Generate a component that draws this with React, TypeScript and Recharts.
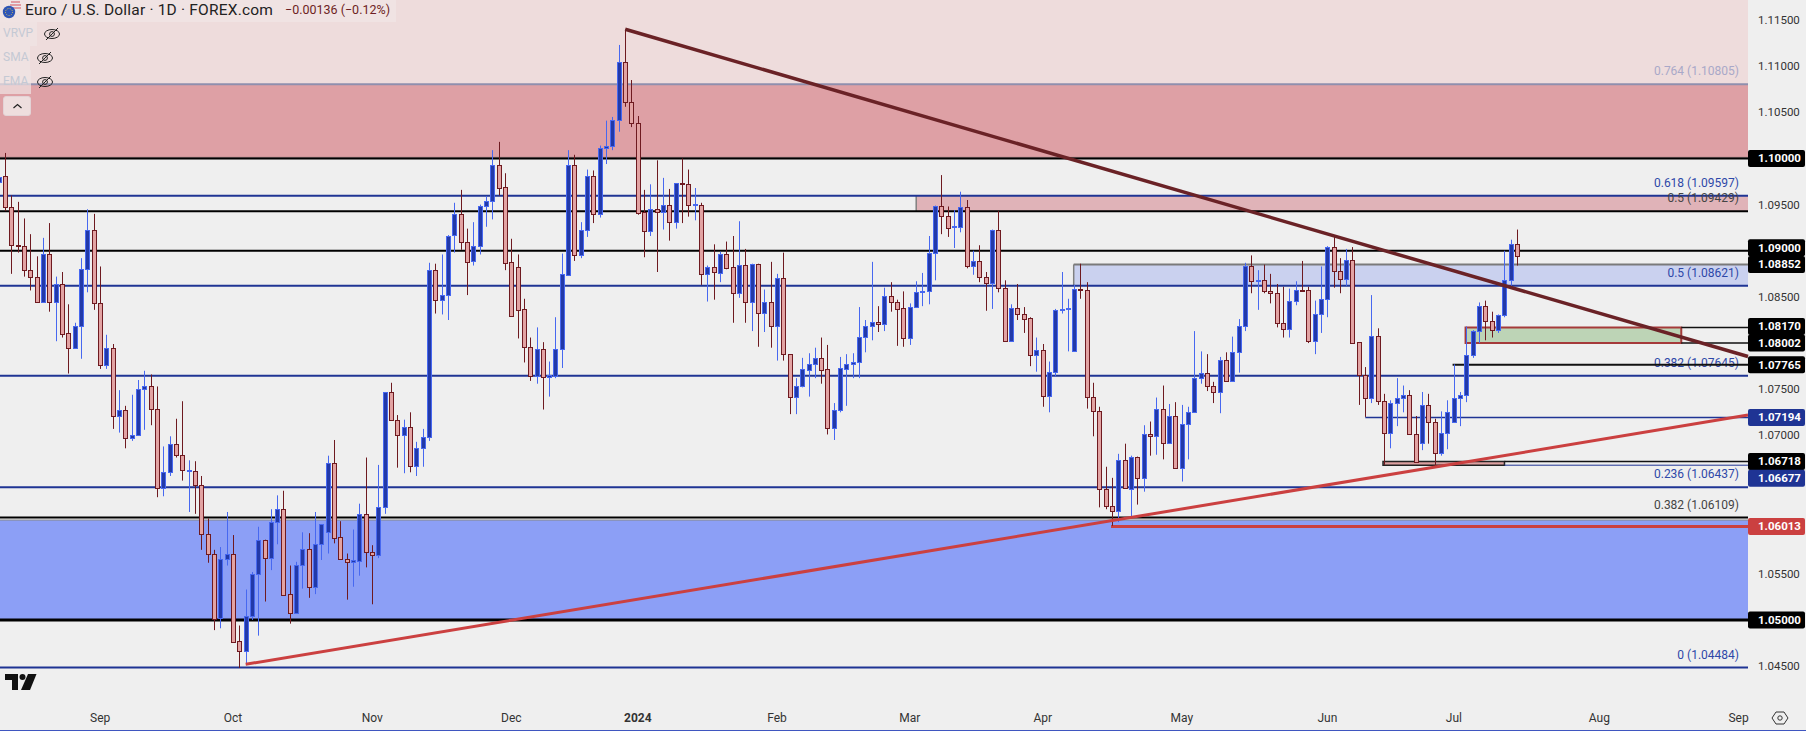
import { ComposedChart, Bar, XAxis, YAxis, ReferenceLine, ReferenceArea } from 'recharts';

// Daily EURUSD candles. First entry is the half-hidden candle at the left edge.
const opens = [
  1.0974,1.0981,1.0947,1.0906,1.0905,1.0879,1.0872,1.0845,1.0896,1.0845,
  1.0864,1.0811,1.0795,1.0819,1.0880,1.0923,1.0843,1.0776,1.0795,1.0721,
  1.0727,1.0697,1.0700,1.0750,1.0754,1.0729,1.0643,1.0660,1.0691,1.0679,
  1.0661,1.0661,1.0646,1.0593,1.0572,1.0502,1.0566,1.0571,1.0477,1.0466,
  1.0504,1.0550,1.0587,1.0567,1.0606,1.0620,1.0528,1.0508,1.0560,1.0577,
  1.0536,1.0582,1.0595,1.0670,1.0590,1.0566,1.0563,1.0564,1.0615,1.0574,
  1.0570,1.0622,1.0747,1.0717,1.0700,1.0709,1.0667,1.0686,1.0698,1.0879,
  1.0847,1.0852,1.0917,1.0940,1.0910,1.0889,1.0905,1.0949,1.0954,1.0993,
  1.0969,1.0888,1.0882,1.0837,1.0796,1.0764,1.0794,1.0763,1.0764,1.0794,
  1.0874,1.0993,1.0895,1.0923,1.0981,1.0940,1.1011,1.1013,1.1042,1.1105,
  1.1061,1.1038,1.0942,1.0921,1.0945,1.0942,1.0950,1.0931,1.0973,1.0972,
  1.0950,1.0950,1.0875,1.0882,1.0876,1.0897,1.0882,1.0854,1.0885,1.0845,
  1.0886,1.0833,1.0845,1.0818,1.0871,1.0788,1.0742,1.0754,1.0771,1.0777,
  1.0784,1.0772,1.0708,1.0727,1.0772,1.0777,1.0779,1.0807,1.0818,1.0823,
  1.0821,1.0851,1.0844,1.0838,1.0805,1.0839,1.0855,1.0856,1.0898,1.0948,
  1.0938,1.0926,1.0926,1.0947,1.0883,1.0889,1.0872,1.0865,1.0922,1.0860,
  1.0802,1.0838,1.0831,1.0827,1.0787,1.0792,1.0743,1.0769,1.0836,1.0837,
  1.0791,1.0859,1.0857,1.0742,1.0726,1.0642,1.0624,1.0618,1.0673,1.0642,
  1.0677,1.0654,1.0701,1.0699,1.0729,1.0692,1.0721,1.0665,1.0712,1.0725,
  1.0762,1.0768,1.0754,1.0747,1.0782,1.0759,1.0790,1.0819,1.0884,1.0867,
  1.0868,1.0856,1.0854,1.0822,1.0815,1.0846,1.0858,1.0857,1.0802,1.0832,
  1.0848,1.0904,1.0878,1.0869,1.0890,1.0801,1.0765,1.0740,1.0808,1.0737,
  1.0703,1.0735,1.0740,1.0744,1.0702,1.0692,1.0733,1.0714,1.0681,1.0703,
  1.0714,1.0740,1.0744,1.0787,1.0813,1.0840,1.0824,1.0814,1.0830,1.0868,1.0907,
];
const highs = [
  1.0981,1.1006,1.0960,1.0953,1.0935,1.0918,1.0894,1.0914,1.0930,1.0872,
  1.0877,1.0842,1.0822,1.0892,1.0945,1.0940,1.0883,1.0809,1.0799,1.0749,
  1.0732,1.0744,1.0760,1.0770,1.0766,1.0753,1.0688,1.0699,1.0718,1.0737,
  1.0673,1.0672,1.0656,1.0610,1.0576,1.0579,1.0617,1.0592,1.0494,1.0533,
  1.0552,1.0601,1.0587,1.0620,1.0635,1.0640,1.0559,1.0563,1.0595,1.0594,
  1.0617,1.0604,1.0678,1.0695,1.0607,1.0572,1.0598,1.0626,1.0676,1.0581,
  1.0668,1.0747,1.0757,1.0722,1.0717,1.0725,1.0693,1.0707,1.0887,1.0886,
  1.0896,1.0917,1.0952,1.0966,1.0924,1.0931,1.0950,1.0959,1.1009,1.1018,
  1.0984,1.0913,1.0896,1.0848,1.0806,1.0817,1.0801,1.0780,1.0828,1.0897,
  1.1009,1.1004,1.0931,1.0988,1.0987,1.1014,1.1041,1.1045,1.1123,1.1140,
  1.1085,1.1046,1.0966,1.0972,1.0998,1.0979,1.0967,1.0973,1.1000,1.0988,
  1.0968,1.0952,1.0884,1.0907,1.0899,1.0910,1.0916,1.0932,1.0902,1.0886,
  1.0886,1.0858,1.0888,1.0875,1.0898,1.0788,1.0762,1.0784,1.0789,1.0795,
  1.0806,1.0798,1.0735,1.0785,1.0788,1.0789,1.0839,1.0825,1.0888,1.0840,
  1.0860,1.0866,1.0847,1.0856,1.0843,1.0867,1.0876,1.0916,1.0949,1.0982,
  1.0948,1.0944,1.0964,1.0955,1.0900,1.0906,1.0877,1.0923,1.0943,1.0868,
  1.0842,1.0864,1.0839,1.0828,1.0806,1.0799,1.0780,1.0837,1.0877,1.0848,
  1.0863,1.0886,1.0866,1.0757,1.0731,1.0666,1.0654,1.0680,1.0691,1.0678,
  1.0677,1.0711,1.0715,1.0741,1.0754,1.0734,1.0736,1.0733,1.0731,1.0813,
  1.0791,1.0788,1.0758,1.0785,1.0790,1.0807,1.0826,1.0887,1.0895,1.0879,
  1.0885,1.0875,1.0864,1.0861,1.0859,1.0867,1.0889,1.0861,1.0846,1.0883,
  1.0905,1.0915,1.0892,1.0902,1.0904,1.0801,1.0774,1.0852,1.0816,1.0745,
  1.0738,1.0762,1.0754,1.0749,1.0721,1.0747,1.0745,1.0718,1.0726,1.0738,
  1.0777,1.0747,1.0818,1.0814,1.0844,1.0846,1.0834,1.0831,1.0900,1.0912,1.0923,
];
const lows = [
  1.0973,1.0943,1.0875,1.0898,1.0872,1.0857,1.0845,1.0845,1.0834,1.0802,
  1.0806,1.0767,1.0794,1.0783,1.0855,1.0836,1.0772,1.0772,1.0707,1.0703,
  1.0686,1.0694,1.0700,1.0706,1.0711,1.0633,1.0634,1.0656,1.0676,1.0651,
  1.0617,1.0615,1.0576,1.0562,1.0489,1.0491,1.0559,1.0476,1.0448,1.0451,
  1.0500,1.0483,1.0520,1.0554,1.0582,1.0526,1.0496,1.0508,1.0534,1.0524,
  1.0528,1.0565,1.0572,1.0583,1.0566,1.0522,1.0536,1.0548,1.0557,1.0517,
  1.0567,1.0615,1.0717,1.0665,1.0659,1.0660,1.0656,1.0666,1.0694,1.0832,
  1.0831,1.0825,1.0898,1.0901,1.0852,1.0884,1.0896,1.0926,1.0934,1.0960,
  1.0879,1.0829,1.0805,1.0779,1.0759,1.0756,1.0728,1.0742,1.0762,1.0773,
  1.0874,1.0889,1.0892,1.0915,1.0930,1.0936,1.0994,1.1009,1.1029,1.1056,
  1.1034,1.0939,1.0893,1.0916,1.0877,1.0923,1.0911,1.0924,1.0930,1.0937,
  1.0933,1.0863,1.0845,1.0847,1.0866,1.0880,1.0822,1.0849,1.0822,1.0813,
  1.0796,1.0812,1.0795,1.0781,1.0781,1.0723,1.0723,1.0752,1.0742,1.0762,
  1.0756,1.0701,1.0695,1.0725,1.0732,1.0762,1.0762,1.0790,1.0803,1.0812,
  1.0813,1.0834,1.0797,1.0796,1.0798,1.0839,1.0840,1.0842,1.0868,1.0918,
  1.0915,1.0903,1.0920,1.0881,1.0874,1.0866,1.0835,1.0837,1.0855,1.0802,
  1.0802,1.0825,1.0811,1.0775,1.0769,1.0731,1.0725,1.0764,1.0832,1.0791,
  1.0791,1.0848,1.0729,1.0699,1.0622,1.0620,1.0602,1.0606,1.0643,1.0612,
  1.0625,1.0639,1.0678,1.0679,1.0674,1.0691,1.0665,1.0650,1.0674,1.0725,
  1.0756,1.0748,1.0735,1.0724,1.0759,1.0759,1.0768,1.0813,1.0854,1.0836,
  1.0854,1.0843,1.0817,1.0806,1.0806,1.0841,1.0857,1.0800,1.0788,1.0811,
  1.0828,1.0860,1.0854,1.0862,1.0800,1.0733,1.0720,1.0735,1.0733,1.0668,
  1.0686,1.0710,1.0725,1.0702,1.0671,1.0684,1.0691,1.0665,1.0678,1.0685,
  1.0714,1.0710,1.0736,1.0784,1.0800,1.0803,1.0806,1.0811,1.0828,1.0862,1.0884,
];
const closes = [
  1.0980,1.0947,1.0906,1.0905,1.0879,1.0872,1.0845,1.0896,1.0845,1.0864,
  1.0810,1.0795,1.0819,1.0880,1.0923,1.0843,1.0776,1.0795,1.0721,1.0727,
  1.0697,1.0700,1.0750,1.0754,1.0729,1.0643,1.0660,1.0691,1.0679,1.0662,
  1.0662,1.0646,1.0593,1.0572,1.0501,1.0566,1.0571,1.0476,1.0466,1.0504,
  1.0550,1.0587,1.0567,1.0606,1.0620,1.0527,1.0508,1.0560,1.0577,1.0536,
  1.0582,1.0604,1.0670,1.0589,1.0566,1.0563,1.0565,1.0615,1.0574,1.0570,
  1.0622,1.0747,1.0717,1.0700,1.0709,1.0667,1.0686,1.0698,1.0879,1.0847,
  1.0852,1.0916,1.0940,1.0910,1.0888,1.0905,1.0949,1.0954,1.0993,1.0968,
  1.0887,1.0829,1.0836,1.0796,1.0764,1.0794,1.0763,1.0765,1.0794,1.0875,
  1.0993,1.0895,1.0923,1.0981,1.0940,1.1011,1.1013,1.1042,1.1105,1.1061,
  1.1038,1.0941,1.0921,1.0945,1.0942,1.0950,1.0931,1.0973,1.0972,1.0950,
  1.0951,1.0875,1.0882,1.0877,1.0897,1.0881,1.0854,1.0885,1.0845,1.0886,
  1.0833,1.0845,1.0818,1.0871,1.0788,1.0742,1.0754,1.0772,1.0777,1.0784,
  1.0771,1.0708,1.0727,1.0773,1.0777,1.0779,1.0807,1.0818,1.0823,1.0821,
  1.0851,1.0844,1.0837,1.0805,1.0839,1.0855,1.0856,1.0898,1.0948,1.0938,
  1.0925,1.0927,1.0947,1.0883,1.0889,1.0872,1.0865,1.0922,1.0860,1.0802,
  1.0838,1.0831,1.0826,1.0787,1.0792,1.0743,1.0769,1.0836,1.0837,1.0838,
  1.0859,1.0857,1.0742,1.0726,1.0642,1.0624,1.0618,1.0673,1.0643,1.0677,
  1.0654,1.0701,1.0699,1.0729,1.0692,1.0721,1.0665,1.0712,1.0725,1.0762,
  1.0768,1.0754,1.0747,1.0782,1.0759,1.0790,1.0819,1.0884,1.0867,1.0868,
  1.0856,1.0854,1.0822,1.0815,1.0846,1.0858,1.0857,1.0802,1.0832,1.0848,
  1.0904,1.0878,1.0869,1.0890,1.0800,1.0765,1.0740,1.0808,1.0737,1.0703,
  1.0735,1.0740,1.0744,1.0702,1.0671,1.0733,1.0714,1.0681,1.0703,1.0725,
  1.0740,1.0744,1.0787,1.0813,1.0840,1.0824,1.0814,1.0830,1.0868,1.0907,1.0894,
];

const timeTicks = [15, 36, 58, 80, 100, 122, 143, 164, 186, 209, 229, 252, 274];
const timeLabels = ['Sep', 'Oct', 'Nov', 'Dec', '2024', 'Feb', 'Mar', 'Apr', 'May', 'Jun', 'Jul', 'Aug', 'Sep'];

const priceTicks = [1.115, 1.11, 1.105, 1.095, 1.085, 1.075, 1.07, 1.055, 1.045];
const tagPrices = [1.1, 1.09, 1.08852, 1.0817, 1.08002, 1.07765, 1.07194, 1.06718, 1.06677, 1.06013, 1.05];
const tagLabels = ['1.10000', '1.09000', '1.08852', '1.08170', '1.08002', '1.07765', '1.07194', '1.06718', '1.06677', '1.06013', '1.05000'];
const tagColors = ['#000', '#000', '#000', '#000', '#000', '#000', '#1f3494', '#000', '#1f3494', '#cb4040', '#000'];
// close tags get pushed apart on the axis, like the platform does it
const tagNudges = [0, -3, 0, -1, 0, 0, 0, 0, 13, 0, 0];

const FONT = 'Roboto, sans-serif';
const UP_FILL = '#2239a8';
const UP_EDGE = '#4768f0';
const DOWN_FILL = '#e2a3a3';
const DOWN_EDGE = '#6e1a20';
const FIB_BLUE = '#1f3494';

const candles = opens.map((open, i) => ({
  x: i - 1,
  open,
  high: highs[i],
  low: lows[i],
  close: closes[i],
  range: [lows[i], highs[i]],
}));

function Candle({ x, y, width, height, payload }: any) {
  const { open, high, low, close } = payload;
  const up = close >= open;
  const top = Math.min(y, y + height);
  const h = Math.abs(height);
  const perUnit = h / (high - low);
  const c = Math.floor(x + width / 2) + 0.5;
  const bodyTop = Math.round(top + (high - Math.max(open, close)) * perUnit) + 0.5;
  const bodyBottom = Math.round(top + (high - Math.min(open, close)) * perUnit) + 0.5;
  return (
    <g>
      <line x1={c} x2={c} y1={top} y2={top + h} stroke={up ? UP_EDGE : DOWN_EDGE} strokeWidth={1} />
      <rect
        x={c - 2}
        y={bodyTop}
        width={4}
        height={Math.max(bodyBottom - bodyTop, 1)}
        fill={up ? UP_FILL : DOWN_FILL}
        stroke={up ? UP_EDGE : DOWN_EDGE}
        strokeWidth={1}
      />
    </g>
  );
}

function PriceTick({ x, y, payload }: any) {
  const tag = tagPrices.indexOf(payload.value);
  if (tag < 0) {
    return (
      <text x={x + 10} y={y + 4} fontFamily={FONT} fontSize={11.5} fill="#333">
        {payload.value.toFixed(5)}
      </text>
    );
  }
  const ty = y + tagNudges[tag];
  return (
    <g>
      <rect x={x} y={ty - 8.5} width={57} height={17} rx={2} fill={tagColors[tag]} />
      <text x={x + 10} y={ty + 4} fontFamily={FONT} fontSize={11.5} fontWeight={700} fill="#fff">
        {tagLabels[tag]}
      </text>
    </g>
  );
}

function TimeTick({ x, y, payload }: any) {
  const label = timeLabels[timeTicks.indexOf(payload.value)];
  return (
    <text
      x={x}
      y={y + 22}
      textAnchor="middle"
      fontFamily={FONT}
      fontSize={12}
      fontWeight={label === '2024' ? 700 : 400}
      fill="#333"
    >
      {label}
    </text>
  );
}

function FibText({ viewBox, text, fill }: any) {
  return (
    <text x={1739} y={viewBox.y - 9} textAnchor="end" fontFamily={FONT} fontSize={12} fill={fill}>
      {text}
    </text>
  );
}

function EyeOff({ x, y }: { x: number; y: number }) {
  return (
    <svg style={{ position: 'absolute', left: x, top: y }} width={18} height={16} viewBox="0 0 18 16">
      <ellipse cx={9} cy={8} rx={7.5} ry={4.5} fill="none" stroke="#222" strokeWidth={1} />
      <circle cx={9} cy={8} r={2.4} fill="none" stroke="#222" strokeWidth={1} />
      <line x1={3} y1={14} x2={15} y2={2} stroke="#222" strokeWidth={1} />
    </svg>
  );
}

function Header() {
  const rows = [
    { label: 'VRVP', top: 22, w: 37, eye: 43 },
    { label: 'SMA', top: 46, w: 30, eye: 36 },
    { label: 'EMA', top: 70, w: 31, eye: 36 },
  ];
  return (
    <>
      <div style={{ position: 'absolute', left: 0, top: 0, width: 396, height: 22, background: '#f0e3e3' }} />
      <svg style={{ position: 'absolute', left: 2, top: 0 }} width={20} height={20} viewBox="0 0 20 20">
        <circle cx={13} cy={6} r={5.5} fill="#e9e9ef" />
        <path d="M9 2h9M8 5h11M8 8h11" stroke="#d8505a" strokeWidth={1.2} />
        <circle cx={7} cy={12} r={6.2} fill="#2e55b5" />
        <circle cx={7} cy={12} r={3.5} fill="none" stroke="#e6c84a" strokeWidth={1} strokeDasharray="1 1.4" />
      </svg>
      <div style={{ position: 'absolute', left: 25, top: 1, fontFamily: FONT, fontSize: 15.5, letterSpacing: 0.2, color: '#222', whiteSpace: 'nowrap' }}>
        Euro / U.S. Dollar · 1D · FOREX.com
      </div>
      <div style={{ position: 'absolute', left: 285, top: 2, fontFamily: FONT, fontSize: 12.5, color: '#6e1f24', whiteSpace: 'nowrap' }}>
        −0.00136 (−0.12%)
      </div>
      {rows.map((r) => (
        <div key={r.label}>
          <div style={{ position: 'absolute', left: 0, top: r.top, width: r.w, height: 24, background: 'rgba(240,228,228,0.7)' }} />
          <div style={{ position: 'absolute', left: 3, top: r.top + 4, fontFamily: FONT, fontSize: 12, color: '#c4c9d4' }}>{r.label}</div>
          <EyeOff x={r.eye} y={r.top + 4} />
        </div>
      ))}
      <div style={{ position: 'absolute', left: 3, top: 96, width: 28, height: 20, borderRadius: 3, background: '#eedede', border: '1px solid #e3d3d6', boxSizing: 'border-box' }} />
      <svg style={{ position: 'absolute', left: 12, top: 102 }} width={11} height={8} viewBox="0 0 11 8">
        <path d="M1.5 6 L5.5 2.5 L9.5 6" fill="none" stroke="#222" strokeWidth={1.2} />
      </svg>
    </>
  );
}

function Decorations() {
  return (
    <>
      <svg style={{ position: 'absolute', left: 5, top: 673 }} width={32} height={18} viewBox="0 0 32 18">
        <path d="M0 1H13V17H7V7H0Z" fill="#111" />
        <circle cx={17.5} cy={4} r={3} fill="#111" />
        <path d="M23 1H31.5L25 17H16Z" fill="#111" />
      </svg>
      <svg style={{ position: 'absolute', left: 1771, top: 710 }} width={18} height={16} viewBox="0 0 18 16">
        <path d="M5 2H13L17 8L13 14H5L1 8Z" fill="none" stroke="#333" strokeWidth={1} />
        <circle cx={9} cy={8} r={2.2} fill="none" stroke="#333" strokeWidth={1} />
      </svg>
      <div style={{ position: 'absolute', left: 0, top: 730, width: 1806, height: 1, background: '#3f56c0' }} />
    </>
  );
}

const X_MIN = -0.843;
const X_MAX = 275.5;
const Y_MIN = 1.04133;
const Y_MAX = 1.11717;

export default function App() {
  return (
    <div style={{ position: 'absolute', left: 0, top: 0, width: 1806, height: 731, background: '#efefef', overflow: 'hidden' }}>
      <ComposedChart width={1806} height={731} data={candles} margin={{ top: 0, right: 0, bottom: 0, left: 0 }}>
        <XAxis
          dataKey="x"
          type="number"
          domain={[X_MIN, X_MAX]}
          allowDataOverflow
          ticks={timeTicks}
          interval={0}
          tick={<TimeTick />}
          axisLine={false}
          tickLine={false}
          tickSize={0}
          tickMargin={0}
          height={31}
        />
        <YAxis
          orientation="right"
          type="number"
          domain={[Y_MIN, Y_MAX]}
          allowDataOverflow
          ticks={[...priceTicks, ...tagPrices]}
          interval={0}
          tick={<PriceTick />}
          axisLine={false}
          tickLine={false}
          tickSize={0}
          tickMargin={0}
          width={58}
        />

        {/* zones */}
        <ReferenceArea y1={1.10805} y2={Y_MAX} fill="#eedcdc" fillOpacity={1} stroke="none" zIndex={50} />
        <ReferenceArea y1={1.1} y2={1.10805} fill="#dea0a5" fillOpacity={1} stroke="none" zIndex={50} />
        <ReferenceArea y1={1.05} y2={1.06083} fill="#8c9ff6" fillOpacity={1} stroke="none" zIndex={50} />
        <ReferenceArea x1={144} x2={X_MAX} y1={1.09429} y2={1.09597} fill="#e0b3b8" fillOpacity={1} stroke="none" zIndex={50} />
        <ReferenceArea x1={168.9} x2={X_MAX} y1={1.08621} y2={1.08852} fill="#cad1ef" fillOpacity={1} stroke="none" zIndex={50} />

        {/* zone edges */}
        <ReferenceLine y={1.10805} stroke="#8f8fae" strokeWidth={2} zIndex={60} label={<FibText text="0.764 (1.10805)" fill="#a9a8c8" />} />
        <ReferenceLine y={1.10012} stroke="#8a7478" strokeWidth={1} zIndex={60} />
        <ReferenceLine y={1.06083} stroke="#888" strokeWidth={1} zIndex={60} />
        <ReferenceLine segment={[{ x: 144, y: 1.09429 }, { x: 144, y: 1.09597 }]} stroke="#808080" strokeWidth={1.5} zIndex={60} ifOverflow="visible" />
        <ReferenceLine segment={[{ x: 168.9, y: 1.08621 }, { x: 168.9, y: 1.08852 }]} stroke="#808080" strokeWidth={1.5} zIndex={60} ifOverflow="visible" />
        <ReferenceLine segment={[{ x: 168.9, y: 1.08852 }, { x: X_MAX, y: 1.08852 }]} stroke="#7a7a7a" strokeWidth={2} zIndex={60} ifOverflow="visible" />

        {/* horizontal levels */}
        <ReferenceLine y={1.1} stroke="#000" strokeWidth={2} zIndex={70} />
        <ReferenceLine y={1.09597} stroke={FIB_BLUE} strokeWidth={2} zIndex={70} label={<FibText text="0.618 (1.09597)" fill="#2e48a8" />} />
        <ReferenceLine y={1.09429} stroke="#000" strokeWidth={2} zIndex={70} label={<FibText text="0.5 (1.09429)" fill="#444" />} />
        <ReferenceLine y={1.09} stroke="#000" strokeWidth={2} zIndex={70} />
        <ReferenceLine y={1.08621} stroke={FIB_BLUE} strokeWidth={2} zIndex={70} label={<FibText text="0.5 (1.08621)" fill="#2e48a8" />} />
        <ReferenceLine y={1.07645} stroke={FIB_BLUE} strokeWidth={2} zIndex={70} label={<FibText text="0.382 (1.07645)" fill="#2e48a8" />} />
        <ReferenceLine y={1.06437} stroke={FIB_BLUE} strokeWidth={2} zIndex={70} label={<FibText text="0.236 (1.06437)" fill="#2e48a8" />} />
        <ReferenceLine y={1.06109} stroke="#000" strokeWidth={2} zIndex={70} label={<FibText text="0.382 (1.06109)" fill="#444" />} />
        <ReferenceLine y={1.05} stroke="#000" strokeWidth={3} zIndex={70} />
        <ReferenceLine y={1.04484} stroke={FIB_BLUE} strokeWidth={2} zIndex={70} label={<FibText text="0 (1.04484)" fill="#2e48a8" />} />

        {/* boxes and short levels sit behind the candles */}
        <ReferenceArea x1={230.85} x2={264.95} y1={1.08002} y2={1.0817} fill="#bdd4b6" fillOpacity={1} stroke="#a53a3a" strokeWidth={2} zIndex={80} />
        <ReferenceLine segment={[{ x: 264.95, y: 1.0817 }, { x: X_MAX, y: 1.0817 }]} stroke="#111" strokeWidth={1.5} zIndex={90} ifOverflow="visible" />
        <ReferenceLine segment={[{ x: 264.95, y: 1.08002 }, { x: X_MAX, y: 1.08002 }]} stroke="#111" strokeWidth={1.5} zIndex={90} ifOverflow="visible" />
        <ReferenceLine segment={[{ x: 228.8, y: 1.07765 }, { x: X_MAX, y: 1.07765 }]} stroke="#111" strokeWidth={2} zIndex={90} ifOverflow="visible" />
        <ReferenceLine segment={[{ x: 215, y: 1.07194 }, { x: X_MAX, y: 1.07194 }]} stroke={FIB_BLUE} strokeWidth={1.5} zIndex={90} ifOverflow="visible" />
        <ReferenceArea x1={217.8} x2={237} y1={1.06677} y2={1.06718} fill="#dca0a0" fillOpacity={1} stroke="#222" strokeWidth={1.5} zIndex={90} />
        <ReferenceLine segment={[{ x: 237, y: 1.06718 }, { x: X_MAX, y: 1.06718 }]} stroke="#111" strokeWidth={1.5} zIndex={90} ifOverflow="visible" />
        <ReferenceLine segment={[{ x: 237, y: 1.06677 }, { x: X_MAX, y: 1.06677 }]} stroke={FIB_BLUE} strokeWidth={1} zIndex={90} ifOverflow="visible" />
        <ReferenceLine segment={[{ x: 174.8, y: 1.06013 }, { x: X_MAX, y: 1.06013 }]} stroke="#cb4040" strokeWidth={3} zIndex={90} ifOverflow="visible" />

        <Bar dataKey="range" barSize={5} shape={<Candle />} isAnimationActive={false} zIndex={300} />

        {/* trendlines on top of the candles */}
        <ReferenceLine segment={[{ x: 38, y: 1.0452 }, { x: X_MAX, y: 1.0722 }]} stroke="#cb4040" strokeWidth={3} zIndex={430} ifOverflow="visible" />
        <ReferenceLine segment={[{ x: 98, y: 1.114 }, { x: X_MAX, y: 1.07854 }]} stroke="#6a2226" strokeWidth={3.5} zIndex={440} ifOverflow="visible" />
      </ComposedChart>
      <Header />
      <Decorations />
    </div>
  );
}
